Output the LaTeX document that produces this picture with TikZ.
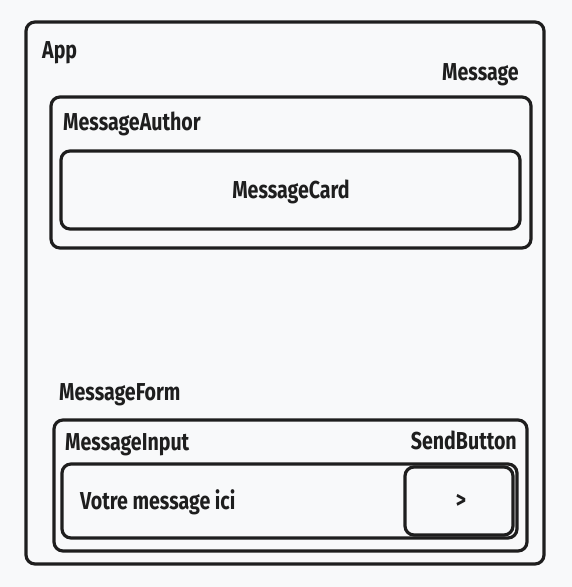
\documentclass[tikz,border=0pt]{standalone}
\usepackage{fontspec}
\setmainfont{Fira Sans}[FakeStretch=0.8]
\definecolor{paper}{HTML}{F8F9FA}
\definecolor{ink}{HTML}{1E1E1E}
\tikzset{
  frame/.style={draw=ink, line width=3.2pt, rounded corners=9pt, line join=round},
  lbl/.style={text=ink, inner sep=0pt, font=\fontsize{24.5}{26}\selectfont\bfseries},
}
\begin{document}
\begin{tikzpicture}[x=1pt,y=-1pt]
\fill[paper] (0,0) rectangle (572,587);
%boxes
\draw[frame] (26,22) rectangle (544,564); %App
\draw[frame] (51,97) rectangle (531,248); %MessageAuthor
\draw[frame] (61,151) rectangle (520,229); %MessageCard
\draw[frame] (54,420) rectangle (527,551); %MessageForm
\draw[frame] (62,464) rectangle (517,538); %MessageInput
\draw[frame] (405,467) rectangle (513,535); %SendButton
%labels
\node[lbl, anchor=base west] (app) at (42,58) {App};
\node[lbl, anchor=base east] (message) at (519,80) {Message};
\node[lbl, anchor=base west] (author) at (63,130) {MessageAuthor};
\node[lbl, anchor=base] (card) at (291,198) {MessageCard};
\node[lbl, anchor=base west] (form) at (59,400) {MessageForm};
\node[lbl, anchor=base west] (input) at (65,450) {MessageInput};
\node[lbl, anchor=base east] (button) at (517,449) {SendButton};
\node[lbl, anchor=base west] (placeholder) at (80,509) {Votre message ici};
\node[lbl] (arrow) at (461,501) {>};
\end{tikzpicture}
\end{document}
